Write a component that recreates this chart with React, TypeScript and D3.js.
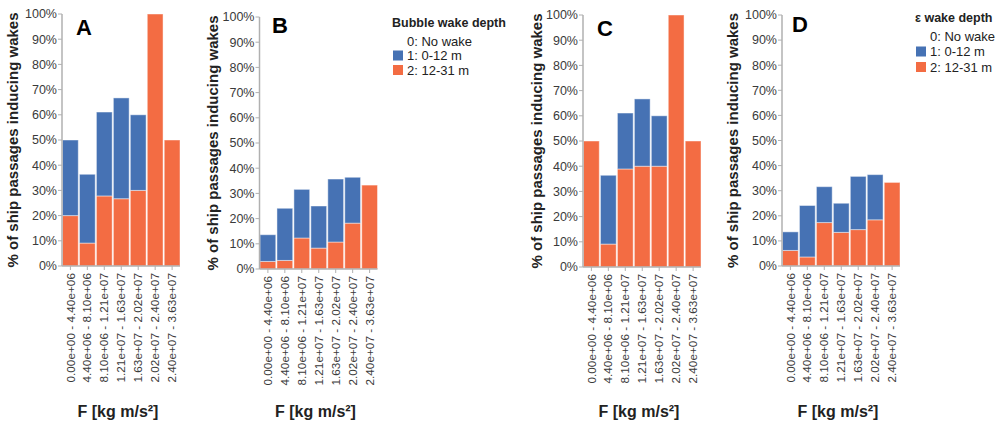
import React from "react";
import * as d3 from "d3";

const categories = [
  "0.00e+00 - 4.40e+06",
  "4.40e+06 - 8.10e+06",
  "8.10e+06 - 1.21e+07",
  "1.21e+07 - 1.63e+07",
  "1.63e+07 - 2.02e+07",
  "2.02e+07 - 2.40e+07",
  "2.40e+07 - 3.63e+07",
];
const yTicks = [0, 10, 20, 30, 40, 50, 60, 70, 80, 90, 100];

// % of ship passages per depth class (2: 12-31 m bottom, 1: 0-12 m on top)
const deepA = [20.0, 9.1, 27.8, 26.7, 30.0, 100, 50];
const shallowA = [30.0, 27.3, 33.3, 40.0, 30.0, 0, 0];
const deepB = [3.0, 3.4, 12.3, 8.3, 10.7, 18.2, 33.3];
const shallowB = [10.6, 20.7, 19.3, 16.7, 25.0, 18.2, 0];
const deepC = [50, 9.1, 38.9, 40.0, 40.0, 100, 50];
const shallowC = [0, 27.3, 22.2, 26.7, 20.0, 0, 0];
const deepD = [6.2, 3.6, 17.3, 13.4, 14.5, 18.4, 33.3];
const shallowD = [7.4, 20.5, 14.3, 11.6, 21.2, 18.0, 0];

const legendItems = ["0: No wake", "1: 0-12 m", "2: 12-31 m"];
const BLUE = "#4672b4";
const ORANGE = "#f36c43";
const FONT = "Arial, 'Liberation Sans', sans-serif";

type PanelProps = {
  letter: string;
  deep: number[];
  shallow: number[];
  axisX: number;
  top: number;
  bottom: number;
  titleX: number;
  letterX: number;
  letterY: number;
};

function Panel({ letter, deep, shallow, axisX, top, bottom, titleX, letterX, letterY }: PanelProps) {
  const x = d3.scaleBand<string>().domain(categories).range([axisX + 0.5, axisX + 118]).paddingInner(0.07).paddingOuter(0);
  const y = d3.scaleLinear().domain([0, 100]).range([bottom, top]);
  const stack = d3.stack<number>().keys(["deep", "shallow"]).value((i, k) => (k === "deep" ? deep[i] : shallow[i]));
  const series = stack(d3.range(categories.length));
  const colors = [ORANGE, BLUE];
  const axisColor = "#b0b0b0";
  return (
    <g>
      {series.map((s, si) =>
        s.map((d, i) =>
          d[1] - d[0] > 0 ? (
            <rect
              key={si + "-" + i}
              x={x(categories[i])}
              width={x.bandwidth()}
              y={y(d[1])}
              height={y(d[0]) - y(d[1])}
              fill={colors[si]}
              stroke="#ffffff"
              strokeOpacity={0.45}
              strokeWidth={1}
            />
          ) : null
        )
      )}
      <line x1={axisX} x2={axisX} y1={top} y2={bottom} stroke={axisColor} strokeWidth={1.5} />
      <line x1={axisX} x2={axisX + 118} y1={bottom} y2={bottom} stroke={axisColor} strokeWidth={1.5} />
      {yTicks.map((t) => (
        <g key={t}>
          <line x1={axisX - 4} x2={axisX} y1={y(t)} y2={y(t)} stroke={axisColor} strokeWidth={1} />
          <text x={axisX - 5} y={y(t)} dy="0.35em" textAnchor="end" fontSize={12.5} fill="#3a3a3a" fontFamily={FONT}>
            {t + "%"}
          </text>
        </g>
      ))}
      {categories.map((c) => {
        const cx = (x(c) as number) + x.bandwidth() / 2;
        return (
          <g key={c}>
            <line x1={cx} x2={cx} y1={bottom} y2={bottom + 4} stroke={axisColor} strokeWidth={1} />
            <text
              transform={`translate(${cx},${bottom + 7}) rotate(-90)`}
              dy="0.35em"
              textAnchor="end"
              fontSize={11.8}
              fill="#3a3a3a"
              fontFamily={FONT}
            >
              {c}
            </text>
          </g>
        );
      })}
      <text
        transform={`translate(${titleX},${(top + bottom) / 2}) rotate(-90)`}
        dy="0.35em"
        textAnchor="middle"
        fontSize={15}
        fontWeight="bold"
        fill="#222"
        fontFamily={FONT}
      >
        % of ship passages inducing wakes
      </text>
      <text x={axisX + 56} y={417} textAnchor="middle" fontSize={16} fontWeight="bold" fill="#222" fontFamily={FONT}>
        F [kg m/s²]
      </text>
      <text x={letterX} y={letterY} fontSize={22} fontWeight="bold" fill="#000" fontFamily={FONT}>
        {letter}
      </text>
    </g>
  );
}

function Legend({ title, x, y, step }: { title: string; x: number; y: number; step: number }) {
  const colors = [null, BLUE, ORANGE];
  return (
    <g>
      <text x={x} y={y} dy="0.35em" fontSize={12.5} fontWeight="bold" fill="#222" fontFamily={FONT}>
        {title}
      </text>
      {legendItems.map((it, i) => {
        const cy = y + 18 + i * step;
        return (
          <g key={it}>
            {colors[i] ? <rect x={x + 1} y={cy - 5} width={10} height={10} fill={colors[i] as string} /> : null}
            <text x={x + 15} y={cy} dy="0.35em" fontSize={13} fill="#222" fontFamily={FONT}>
              {it}
            </text>
          </g>
        );
      })}
    </g>
  );
}

export default function App() {
  return (
    <svg width={995} height={425} style={{ position: "absolute", left: 0, top: 0, background: "#fff" }}>
      <Panel letter="A" deep={deepA} shallow={shallowA} axisX={62} top={14} bottom={266} titleX={13} letterX={76} letterY={35} />
      <Panel letter="B" deep={deepB} shallow={shallowB} axisX={259.5} top={17} bottom={269} titleX={213} letterX={272} letterY={33} />
      <Panel letter="C" deep={deepC} shallow={shallowC} axisX={583} top={15} bottom={267} titleX={537} letterX={597} letterY={36} />
      <Panel letter="D" deep={deepD} shallow={shallowD} axisX={782} top={15} bottom={266} titleX={733} letterX={792} letterY={32} />
      <Legend title="Bubble wake depth" x={392} y={23} step={14.5} />
      <Legend title="ε wake depth" x={915} y={18} step={15.5} />
    </svg>
  );
}
